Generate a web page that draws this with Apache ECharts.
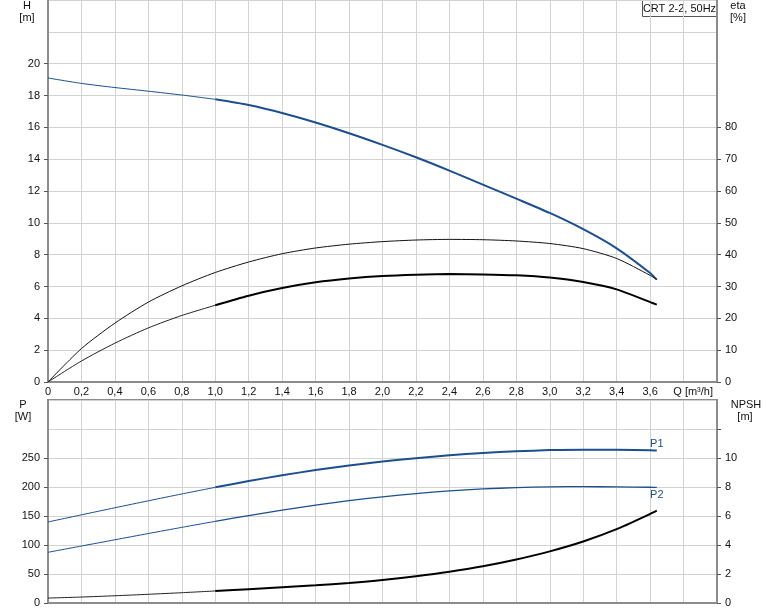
<!DOCTYPE html>
<html>
<head>
<meta charset="utf-8">
<script src="https://cdn.jsdelivr.net/npm/echarts@6/dist/echarts.min.js"></script>
<style>
html,body{margin:0;padding:0;background:#fff;}
#chart{width:774px;height:611px;}
</style>
</head>
<body>
<div id="chart"></div>
<script>
// ---- data ----
var flowQ = [0, 0.2, 0.4, 0.6, 0.8, 1.0, 1.2, 1.4, 1.6, 1.8, 2.0, 2.2, 2.4, 2.6, 2.8, 3.0, 3.2, 3.4, 3.6, 3.64];
var headH = [19.1, 18.76, 18.5, 18.27, 18.03, 17.76, 17.4, 16.9, 16.3, 15.63, 14.9, 14.12, 13.28, 12.4, 11.52, 10.62, 9.6, 8.4, 6.85, 6.43];
var etaUpper = [0, 10.5, 18.5, 25.1, 30.2, 34.4, 37.7, 40.3, 42.1, 43.3, 44.1, 44.6, 44.8, 44.7, 44.3, 43.5, 41.9, 38.8, 33.5, 32.2];
var etaLower = [0, 6.6, 12.2, 17.0, 20.9, 24.1, 27.1, 29.5, 31.3, 32.5, 33.3, 33.7, 33.9, 33.8, 33.5, 32.8, 31.4, 29.1, 25.1, 24.3];
var powerP1 = [139.7, 152, 164.2, 176.2, 188, 199.4, 210.2, 220.2, 229.2, 237, 243.8, 249.6, 254.6, 258.6, 261.6, 263.6, 264.4, 264.2, 263.2, 262.8];
var powerP2 = [87.4, 98.2, 109, 119.8, 130.4, 140.8, 150.8, 160.2, 168.8, 176.4, 183, 188.6, 193.2, 196.6, 198.9, 200.3, 200.6, 200.2, 199.6, 199.4];
var npshR = [0.34, 0.41, 0.5, 0.6, 0.71, 0.83, 0.95, 1.08, 1.22, 1.38, 1.58, 1.84, 2.15, 2.53, 3.0, 3.56, 4.24, 5.09, 6.14, 6.37];

var hTicks = [0, 2, 4, 6, 8, 10, 12, 14, 16, 18, 20];
var etaTicks = [0, 10, 20, 30, 40, 50, 60, 70, 80];
var pTicks = [0, 50, 100, 150, 200, 250];
var npshTicks = [0, 2, 4, 6, 8, 10];
var npshTickMarks = [0, 2, 4, 6, 8, 10, 12];
var qLabelMax = 3.6;
var titleText = 'CRT 2-2, 50Hz';

// ---- chart ----
var BLUE = '#1b4f8f';
var FONT = '"Liberation Sans", Arial, sans-serif';
var TXT = '#111';
var AX = '#8c8c8c';
var GRIDC = '#d3d3d3';

var splitIdx = flowQ.indexOf(1.0);
function seg(vals, a, b) {
  var out = [];
  for (var i = a; i <= b; i++) out.push([flowQ[i], vals[i]]);
  return out;
}
var last = flowQ.length - 1;

function line(name, xi, yi, data, width, color) {
  return {
    name: name, type: 'line', xAxisIndex: xi, yAxisIndex: yi, data: data,
    showSymbol: false, symbol: 'none', smooth: 0.25, silent: true,
    lineStyle: {width: width, color: color}, itemStyle: {color: color}
  };
}

function xAx(gi, showLabel) {
  return {
    type: 'value', gridIndex: gi, min: 0, max: 4, interval: 0.2,
    axisLine: {show: true, onZero: false, lineStyle: {color: AX, width: 2}},
    axisTick: {show: false},
    axisLabel: {
      show: showLabel, margin: 4, color: TXT, fontFamily: FONT, fontSize: 11,
      formatter: function (v) {
        if (v > qLabelMax + 1e-6) return '';
        if (Math.abs(v) < 1e-9) return '0';
        return v.toFixed(1).replace('.', ',');
      }
    },
    splitLine: {show: true, lineStyle: {color: GRIDC, width: 1}}
  };
}

function yAx(gi, pos, max, interval, labels, ticks) {
  return {
    type: 'value', gridIndex: gi, position: pos, min: 0, max: max, interval: interval,
    axisLine: {show: true, onZero: false, lineStyle: {color: AX, width: 2}},
    axisTick: {show: true, inside: false, length: 4, customValues: ticks, lineStyle: {color: '#555', width: 1}},
    axisLabel: {
      show: true, margin: 8, color: TXT, fontFamily: FONT, fontSize: 11, customValues: labels,
      formatter: function (v) { return labels.indexOf(v) >= 0 ? String(v) : ''; }
    },
    splitLine: {show: false}
  };
}
function yGridAx(gi, max, interval) {
  return {
    type: 'value', gridIndex: gi, position: 'left', min: 0, max: max, interval: interval,
    axisLine: {show: false}, axisTick: {show: false}, axisLabel: {show: false},
    splitLine: {show: true, lineStyle: {color: GRIDC, width: 1}}
  };
}

var p1Label = {
  symbol: 'circle', symbolSize: 0,
  data: [{coord: [flowQ[last], powerP1[last]], label: {show: true, formatter: 'P1', position: 'top', distance: 1, color: BLUE, fontFamily: FONT, fontSize: 11}}]
};
var p2Label = {
  symbol: 'circle', symbolSize: 0,
  data: [{coord: [flowQ[last], powerP2[last]], label: {show: true, formatter: 'P2', position: 'bottom', distance: 2, color: BLUE, fontFamily: FONT, fontSize: 11}}]
};

var sP1 = line('P1', 1, 3, seg(powerP1, splitIdx, last), 2, BLUE); sP1.markPoint = p1Label;
var sP2 = line('P2', 1, 3, seg(powerP2, splitIdx, last), 1.3, BLUE); sP2.markPoint = p2Label;

function txt(x, y, s) {
  return {type: 'text', x: x, y: y, style: {text: s, font: '11px ' + FONT, fill: TXT, align: 'center', verticalAlign: 'middle'}};
}

var option = {
  animation: false,
  backgroundColor: '#fff',
  textStyle: {fontFamily: FONT},
  grid: [
    {left: 48, right: 57, top: 0, height: 382, show: true, borderColor: AX, borderWidth: 2, backgroundColor: 'transparent'},
    {left: 48, right: 57, top: 400, height: 203, show: true, borderColor: AX, borderWidth: 2, backgroundColor: 'transparent'}
  ],
  xAxis: [xAx(0, true), xAx(1, false)],
  yAxis: [
    yAx(0, 'left', 24, 2, hTicks, hTicks),
    yAx(0, 'right', 120, 10, etaTicks, etaTicks),
    yGridAx(0, 24, 2),
    yAx(1, 'left', 350, 50, pTicks, pTicks),
    yAx(1, 'right', 14, 2, npshTicks, npshTickMarks),
    yGridAx(1, 350, 50)
  ],
  series: [
    line('H', 0, 0, seg(headH, 0, splitIdx), 1, BLUE),
    line('H', 0, 0, seg(headH, splitIdx, last), 2, BLUE),
    line('eta', 0, 1, seg(etaUpper, 0, last), 1, '#111'),
    line('eta2', 0, 1, seg(etaLower, 0, splitIdx), 1, '#222'),
    line('eta2', 0, 1, seg(etaLower, splitIdx, last), 2, '#000'),
    line('P1', 1, 3, seg(powerP1, 0, splitIdx), 1, BLUE),
    sP1,
    line('P2', 1, 3, seg(powerP2, 0, splitIdx), 1, BLUE),
    sP2,
    line('NPSH', 1, 4, seg(npshR, 0, splitIdx), 1, '#222'),
    line('NPSH', 1, 4, seg(npshR, splitIdx, last), 2, '#000')
  ],
  graphic: [
    txt(27, 6, 'H'),
    txt(27, 18, '[m]'),
    txt(738, 6, 'eta'),
    txt(738, 18, '[%]'),
    txt(23, 405, 'P'),
    txt(23, 417, '[W]'),
    txt(746, 405, 'NPSH'),
    txt(745, 417, '[m]'),
    {type: 'text', x: 713, y: 392, style: {text: 'Q [m³/h]', font: '11px ' + FONT, fill: TXT, align: 'right', verticalAlign: 'middle'}},
    {type: 'group', right: 57, top: 0, children: [
      {type: 'rect', shape: {x: 0, y: 0, width: 74, height: 16}, style: {fill: '#fff', stroke: '#555', lineWidth: 1}},
      {type: 'text', x: 37, y: 8.5, style: {text: titleText, font: '11px ' + FONT, fill: TXT, align: 'center', verticalAlign: 'middle'}}
    ]}
  ]
};

var chart = echarts.init(document.getElementById('chart'), null, {renderer: 'canvas'});
chart.setOption(option);
</script>
</body>
</html>
